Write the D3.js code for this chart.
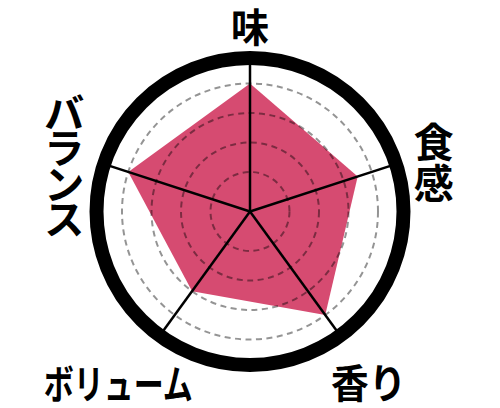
<!DOCTYPE html>
<html>
<head>
<meta charset="utf-8">
<script src="https://cdn.jsdelivr.net/npm/d3@7"></script>
<style>
  body { margin: 0; background: #fff; }
  svg text { font-family: "Noto Sans CJK JP", sans-serif; font-weight: 700; fill: #000; }
</style>
</head>
<body>
<div id="chart"></div>
<script>
// radar data
var axes = ["味", "食感", "香り", "ボリューム", "バランス"];
var scores = [5, 4.5, 5, 4, 5];
var levels = [2, 3, 4, 5];

var width = 500, height = 408,
    cx = 250, cy = 211.5;

var svg = d3.select("#chart")
    .append("svg")
    .attr("width", width)
    .attr("height", height);

var r = d3.scaleLinear()
    .domain([1, 5])
    .range([10, 128]);

var angle = d3.scaleLinear()
    .domain([0, axes.length])
    .range([0, 2 * Math.PI]);

var g = svg.append("g")
    .attr("transform", "translate(" + cx + "," + cy + ")");

// filled area
var radar = d3.lineRadial()
    .angle(function(d, i) { return angle(i); })
    .radius(function(d) { return r(d); })
    .curve(d3.curveLinearClosed);

g.append("path")
    .datum(scores)
    .attr("d", radar)
    .attr("fill", "#d64b71");

// dashed grid rings
g.selectAll("circle.level")
    .data(levels)
    .enter()
    .append("circle")
    .attr("class", "level")
    .attr("r", function(d) { return r(d); })
    .attr("fill", "none")
    .attr("stroke", "#000")
    .attr("stroke-opacity", 0.42)
    .attr("stroke-width", 2)
    .attr("stroke-dasharray", "6,4.5");

// spokes
g.selectAll("line.spoke")
    .data(axes)
    .enter()
    .append("line")
    .attr("class", "spoke")
    .attr("x1", 0).attr("y1", 0)
    .attr("x2", function(d, i) { return d3.pointRadial(angle(i), 150)[0]; })
    .attr("y2", function(d, i) { return d3.pointRadial(angle(i), 150)[1]; })
    .attr("stroke", "#000")
    .attr("stroke-width", 2.5);

// thick frame
g.append("circle")
    .attr("r", 153.5)
    .attr("fill", "none")
    .attr("stroke", "#000")
    .attr("stroke-width", 14);

// label placement: nudge from the spoke direction; vertical labels stack one char per text
var place = [
    {dx: 0, dy: 3.5, vert: false, sx: 0.95},
    {dx: 3, dy: 8, vert: true, pitch: 41},
    {dx: 7, dy: 15, vert: false, sx: 0.94},
    {dx: -20, dy: 16, vert: false, sx: 0.75},
    {dx: -5, dy: 11, vert: true, pitch: 35.5}
];

axes.forEach(function(name, i) {
    var p = d3.pointRadial(angle(i), 190),
        x = p[0] + place[i].dx,
        y = p[1] + place[i].dy;
    if (place[i].vert) {
        var chars = name.split("");
        chars.forEach(function(c, j) {
            g.append("text")
                .attr("x", x)
                .attr("y", y + (j - (chars.length - 1) / 2) * place[i].pitch)
                .attr("text-anchor", "middle")
                .attr("dominant-baseline", "central")
                .style("font-size", "40px")
                .text(c);
        });
    } else {
        g.append("text")
            .attr("transform", "translate(" + x + "," + y + ") scale(" + place[i].sx + ",1)")
            .attr("text-anchor", "middle")
            .attr("dominant-baseline", "central")
            .style("font-size", "40px")
            .text(name);
    }
});
</script>
</body>
</html>
